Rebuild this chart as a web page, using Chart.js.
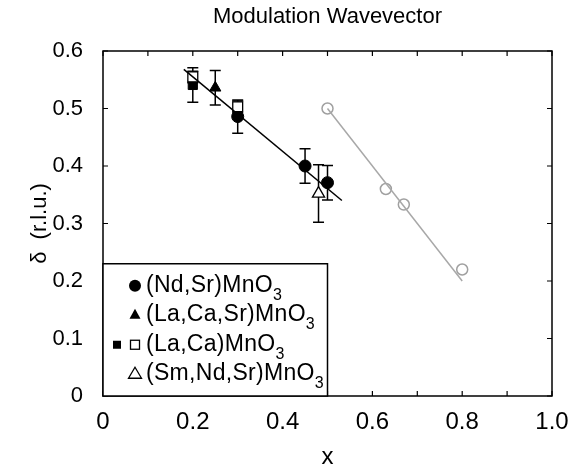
<!DOCTYPE html>
<html>
<head>
<meta charset="utf-8">
<script src="https://cdn.jsdelivr.net/npm/chart.js@4/dist/chart.umd.min.js"></script>
<style>
  html, body { margin: 0; padding: 0; background: #fff; }
  #wrap { width: 586px; height: 470px; }
</style>
</head>
<body>
<div id="wrap"><canvas id="chart"></canvas></div>
<script>
// Data.
var ndSrX = [0.30, 0.45, 0.50];
var ndSrY = [0.486, 0.400, 0.371];
var ndSrErr = [0.029, 0.030, 0.030];

var laCaSrX = [0.25];
var laCaSrY = [0.536];
var laCaSrErr = [0.030];

var laCaFilledX = [0.20];
var laCaFilledY = [0.541];
var laCaFilledErr = [0.030];

var laCaOpenX = [0.20, 0.30];
var laCaOpenY = [0.555, 0.503];
var laCaOpenErr = [0.010, 0.010];

var smNdSrX = [0.48];
var smNdSrY = [0.352];
var smNdSrErr = [0.050];

var grayX = [0.50, 0.63, 0.67, 0.80];
var grayY = [0.500, 0.360, 0.333, 0.220];

var blackFitX = [0.18, 0.532];
var blackFitY = [0.568, 0.340];
var grayFitX = [0.50, 0.80];
var grayFitY = [0.50, 0.20];

var legendLabels = ["(Nd,Sr)MnO3", "(La,Ca,Sr)MnO3", "(La,Ca)MnO3", "(Sm,Nd,Sr)MnO3"];
var legendBoxX = 0.50;
var legendBoxY = 0.23;

var FONT = "'Liberation Sans', Arial, sans-serif";

function pts(xs, ys, errs) {
    var out = [];
    for (var i = 0; i < xs.length; ++i)
        out.push({x: xs[i], y: ys[i], err: errs ? errs[i] : 0});
    return out;
}

function fmt(v) {
    var r = Math.round(v * 10);
    return r === 0 ? "0" : (r / 10).toFixed(1);
}

// Error bars, inward ticks, frame and the boxed legend.
var decorations = {
    id: "decorations",
    beforeDatasetsDraw: function(chart) {
        var ctx = chart.ctx;
        var xs = chart.scales.x, ys = chart.scales.y;
        ctx.save();
        ctx.strokeStyle = "#000";
        ctx.lineWidth = 1.5;
        chart.data.datasets.forEach(function(ds) {
            ds.data.forEach(function(p) {
                if (!p.err) return;
                var px = xs.getPixelForValue(p.x);
                var top = ys.getPixelForValue(p.y + p.err);
                var bot = ys.getPixelForValue(p.y - p.err);
                ctx.beginPath();
                ctx.moveTo(px, top); ctx.lineTo(px, bot);
                ctx.moveTo(px - 5.5, top); ctx.lineTo(px + 5.5, top);
                ctx.moveTo(px - 5.5, bot); ctx.lineTo(px + 5.5, bot);
                ctx.stroke();
            });
        });
        ctx.restore();
    },
    afterDraw: function(chart) {
        var ctx = chart.ctx;
        var a = chart.chartArea;
        var xs = chart.scales.x, ys = chart.scales.y;
        ctx.save();
        ctx.strokeStyle = "#000";
        ctx.lineWidth = 1.5;
        ctx.strokeRect(a.left, a.top, a.right - a.left, a.bottom - a.top);

        ctx.lineWidth = 1.2;
        ctx.beginPath();
        xs.ticks.forEach(function(t) {
            var px = xs.getPixelForValue(t.value);
            ctx.moveTo(px, a.bottom); ctx.lineTo(px, a.bottom - 5);
            ctx.moveTo(px, a.top); ctx.lineTo(px, a.top + 5);
        });
        ys.ticks.forEach(function(t) {
            var py = ys.getPixelForValue(t.value);
            ctx.moveTo(a.left, py); ctx.lineTo(a.left + 5, py);
            ctx.moveTo(a.right, py); ctx.lineTo(a.right - 5, py);
        });
        ctx.stroke();

        // legend box
        var bx = a.left, by = ys.getPixelForValue(legendBoxY);
        var bw = xs.getPixelForValue(legendBoxX) - bx, bh = a.bottom - by;
        ctx.fillStyle = "#fff";
        ctx.fillRect(bx, by, bw, bh);
        ctx.lineWidth = 1.5;
        ctx.strokeRect(bx, by, bw, bh);

        var mx = bx + 32, tx = bx + 43;
        var rowY = [by + 22, by + 51, by + 81, by + 110];
        ctx.lineWidth = 1.3;
        // markers
        ctx.fillStyle = "#000";
        ctx.beginPath(); ctx.arc(mx, rowY[0], 6, 0, 2 * Math.PI); ctx.fill();
        ctx.beginPath();
        ctx.moveTo(mx, rowY[1] - 6); ctx.lineTo(mx + 5.5, rowY[1] + 4); ctx.lineTo(mx - 5.5, rowY[1] + 4);
        ctx.closePath(); ctx.fill();
        ctx.fillRect(mx - 22, rowY[2] - 4, 8, 8);
        ctx.strokeRect(mx - 4.5, rowY[2] - 4.5, 9, 9);
        ctx.beginPath();
        ctx.moveTo(mx, rowY[3] - 6.5); ctx.lineTo(mx + 6.5, rowY[3] + 4.5); ctx.lineTo(mx - 6.5, rowY[3] + 4.5);
        ctx.closePath(); ctx.stroke();

        // labels with subscript 3
        ctx.textBaseline = "middle";
        ctx.textAlign = "left";
        ctx.letterSpacing = "0.3px";
        legendLabels.forEach(function(lab, i) {
            var base = lab.slice(0, -1), sub = lab.slice(-1);
            ctx.font = "23px " + FONT;
            ctx.fillText(base, tx, rowY[i]);
            var w = ctx.measureText(base).width;
            ctx.font = "16px " + FONT;
            ctx.fillText(sub, tx + w, rowY[i] + 10);
        });
        ctx.restore();
    }
};

new Chart(document.getElementById("chart"), {
    type: "scatter",
    data: {
        datasets: [
            {data: pts(grayFitX, grayFitY), showLine: true, borderColor: "#a8a8a8", borderWidth: 1.5, pointRadius: 0},
            {data: pts(blackFitX, blackFitY), showLine: true, borderColor: "#000", borderWidth: 1.5, pointRadius: 0},
            {data: pts(grayX, grayY), pointStyle: "circle", pointRadius: 5.5, borderColor: "#a0a0a0", backgroundColor: "#fff", borderWidth: 1.5},
            {data: pts(laCaOpenX, laCaOpenY, laCaOpenErr), pointStyle: "rect", pointRadius: 7, borderColor: "#000", backgroundColor: "#fff", borderWidth: 1.3},
            {data: pts(laCaFilledX, laCaFilledY, laCaFilledErr), pointStyle: "rect", pointRadius: 6.5, borderColor: "#000", backgroundColor: "#000", borderWidth: 1},
            {data: pts(laCaSrX, laCaSrY, laCaSrErr), pointStyle: "triangle", pointRadius: 6.5, borderColor: "#000", backgroundColor: "#000", borderWidth: 1},
            {data: pts(smNdSrX, smNdSrY, smNdSrErr), pointStyle: "triangle", pointRadius: 7, borderColor: "#000", backgroundColor: "#fff", borderWidth: 1.3},
            {data: pts(ndSrX, ndSrY, ndSrErr), pointStyle: "circle", pointRadius: 6, borderColor: "#000", backgroundColor: "#000", borderWidth: 1}
        ]
    },
    options: {
        responsive: true,
        maintainAspectRatio: false,
        animation: false,
        layout: {padding: {left: 0, right: 34, top: 0, bottom: 0}},
        plugins: {
            legend: {display: false},
            tooltip: {enabled: false},
            title: {
                display: true,
                text: "Modulation Wavevector",
                fullSize: false,
                color: "#000",
                font: {family: FONT, size: 22, weight: "normal"},
                padding: {top: 4, bottom: 20.6}
            }
        },
        scales: {
            x: {
                type: "linear",
                min: 0, max: 1,
                afterFit: function(s) { s.height = 74; },
                grid: {display: false, drawTicks: false},
                border: {display: false},
                ticks: {
                    stepSize: 0.1, autoSkip: false, maxRotation: 0, padding: 12,
                    color: "#000", font: {family: FONT, size: 24},
                    callback: function(v) { return Math.round(v * 10) % 2 === 0 ? fmt(v) : ""; }
                },
                title: {display: true, text: "x", color: "#000", font: {family: FONT, size: 24}, padding: {top: 0, bottom: -2}}
            },
            y: {
                type: "linear",
                min: 0, max: 0.6,
                afterFit: function(s) { s.width = 103; },
                grid: {display: false, drawTicks: false},
                border: {display: false},
                ticks: {
                    stepSize: 0.1, padding: 20,
                    color: "#000", font: {family: FONT, size: 22},
                    callback: function(v) { return fmt(v); }
                },
                title: {display: true, text: "δ  (r.l.u.)", color: "#000", font: {family: FONT, size: 22}, padding: {top: 27, bottom: 0}}
            }
        }
    },
    plugins: [decorations]
});
</script>
</body>
</html>
